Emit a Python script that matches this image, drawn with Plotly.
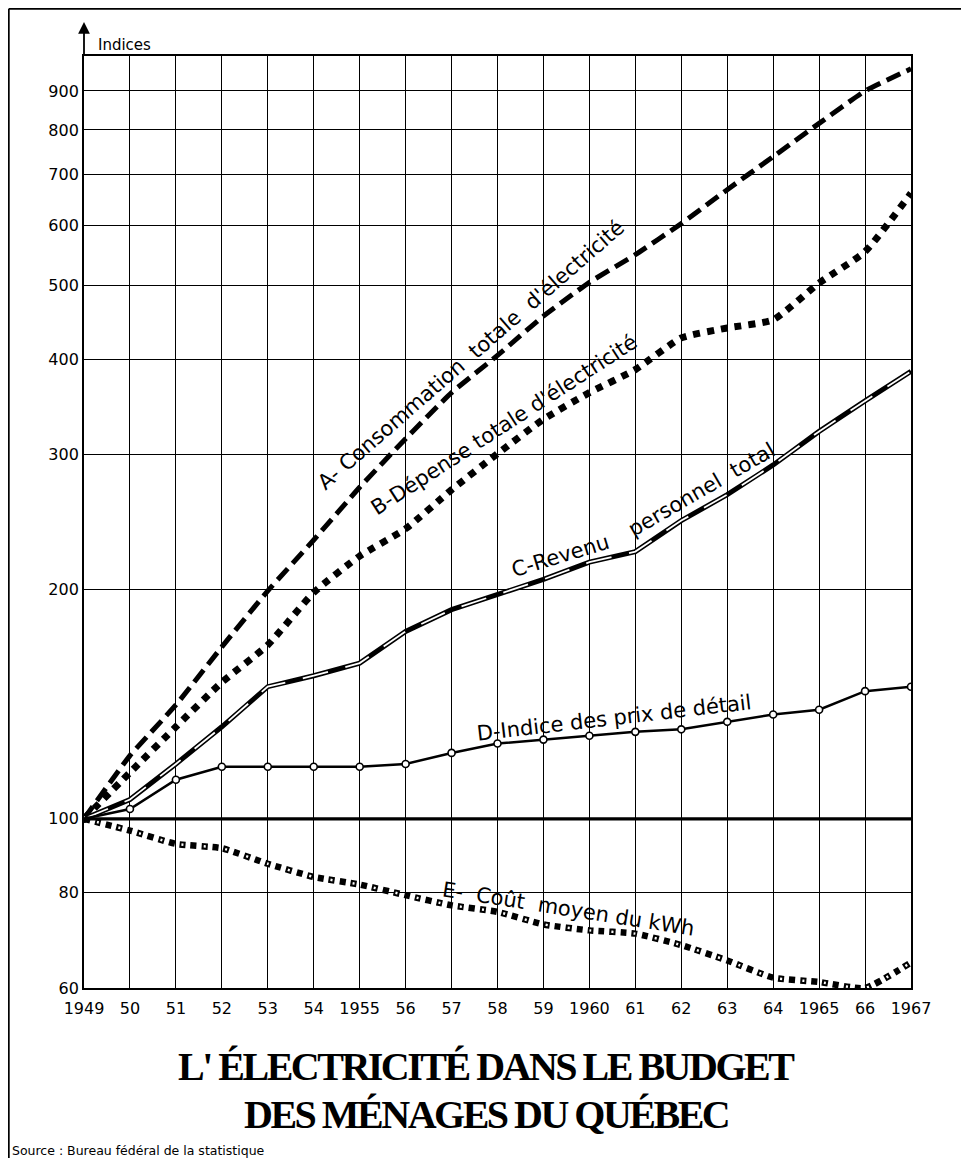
import math
import plotly.graph_objects as go

# ---------------- data ----------------
years = list(range(1949, 1968))
x_labels = ["1949", "50", "51", "52", "53", "54", "1955", "56", "57", "58",
            "59", "1960", "61", "62", "63", "64", "1965", "66", "1967"]
y_ticks = [60, 80, 100, 200, 300, 400, 500, 600, 700, 800, 900]

consommation = [100, 121, 141, 168, 199, 232, 272, 315, 362, 405,
                456, 505, 549, 603, 668, 738, 816, 900, 962]
depense = [100, 115, 132, 151, 169, 198, 221, 240, 270, 301,
           334, 362, 388, 427, 440, 451, 504, 554, 661]
revenu = [100, 106, 118, 132, 149, 154, 160, 176, 188, 197,
          206, 217, 224, 246, 266, 291, 322, 353, 386]
prix = [100, 103, 112.5, 117, 117, 117, 117, 118, 122, 125.5,
        127, 128.5, 130, 131, 134, 137, 139, 147, 149]
cout_kwh = [100, 96.5, 92.7, 91.5, 87.3, 83.9, 82, 79.4, 77, 75.5,
            72.7, 71.4, 70.7, 68.3, 65.2, 61.9, 61.1, 60, 64.8]

label_a = "A- Consommation\u00a0 totale\u00a0 d'électricité"
label_b = "B-Dépense totale d'électricité"
label_c1 = "C-Revenu"
label_c2 = "personnel\u00a0 total"
label_d = "D-Indice des prix de détail"
label_e = "E-\u00a0 Coût\u00a0 moyen du kWh"
title_1 = "L' ÉLECTRICITÉ DANS LE BUDGET"
title_2 = "DES MÉNAGES DU QUÉBEC"
source = "Source : Bureau fédéral de la statistique"

# ---------------- geometry (page body has an 8px margin) ----------------
PAGE_W, PAGE_H, OFF = 969, 1166, 8
W, H = PAGE_W - 2 * OFF, PAGE_H - 2 * OFF
X0, X1, Y0, Y1 = 84, 911, 56, 988          # plot box in page pixels
L, T = X0 - OFF, Y0 - OFF
R, B = W - (X1 - OFF), H - (Y1 - OFF)
PW, PH = X1 - X0, Y1 - Y0


def px(xp):
    return (xp - X0) / PW


def py(yp):
    return (Y1 - yp) / PH


fig = go.Figure()

# A - dashed
fig.add_trace(go.Scatter(x=years, y=consommation, mode="lines",
                         line=dict(color="black", width=5, dash="15px,7px",
                                   shape="spline", smoothing=0.4),
                         name="A"))
# B - big dots
fig.add_trace(go.Scatter(x=years, y=depense, mode="lines",
                         line=dict(color="black", width=7, dash="7px,7px",
                                   shape="spline", smoothing=0.5),
                         name="B"))
# C - double line with black segments
fig.add_trace(go.Scatter(x=years, y=revenu, mode="lines",
                         line=dict(color="black", width=5), name="C"))
fig.add_trace(go.Scatter(x=years, y=revenu, mode="lines",
                         line=dict(color="white", width=1.8, dash="26px,18px"),
                         hoverinfo="skip", name="C core"))
# D - line with open circles
fig.add_trace(go.Scatter(x=years, y=prix, mode="lines+markers",
                         line=dict(color="black", width=2.5),
                         marker=dict(symbol="circle", size=7, color="white",
                                     line=dict(color="black", width=1.6)),
                         name="D"))
# E - alternating filled / open dots
fig.add_trace(go.Scatter(x=years, y=cout_kwh, mode="lines",
                         line=dict(color="black", width=6.5, dash="6px,5px",
                                   shape="spline", smoothing=0.5),
                         name="E"))
fig.add_trace(go.Scatter(x=years, y=cout_kwh, mode="lines",
                         line=dict(color="white", width=2.5, dash="0px,13px,2px,7px",
                                   shape="spline", smoothing=0.5),
                         hoverinfo="skip", name="E core"))

lab_font = dict(family="DejaVu Sans", size=21, color="black")
title_font = dict(family="Liberation Serif", size=40, color="black", weight="bold")
tight = '<span style="letter-spacing:-2.5px">{}</span>'
annotations = [
    dict(text=label_a, x=px(471), y=py(355), textangle=-41, font=lab_font),
    dict(text=label_b, x=px(504), y=py(425), textangle=-33, font=lab_font),
    dict(text=label_c1, x=px(560), y=py(556), textangle=-17, font=lab_font),
    dict(text=label_c2, x=px(701), y=py(490), textangle=-30, font=lab_font),
    dict(text=label_d, x=px(614), y=py(718), textangle=-6.6, font=lab_font),
    dict(text=label_e, x=px(568), y=py(909), textangle=8.9, font=lab_font),
    dict(text="Indices", x=px(96), y=py(45), xanchor="left", yanchor="middle",
         font=dict(family="DejaVu Sans", size=15, color="black")),
    dict(text=tight.format(title_1), x=px(486), y=py(1066), font=title_font),
    dict(text=tight.format(title_2), x=px(486), y=py(1114), font=title_font),
    dict(text=source, x=px(10), y=py(1150), xanchor="left", yanchor="middle",
         font=dict(family="DejaVu Sans", size=12.5, color="black")),
    dict(text="", x=0, y=py(22), ax=0, ay=34, showarrow=True, arrowhead=2,
         arrowsize=1.3, arrowwidth=1.8, arrowcolor="black", standoff=0),
]
for a in annotations:
    a.setdefault("xref", "paper")
    a.setdefault("yref", "paper")
    a.setdefault("showarrow", False)
    a.setdefault("xanchor", "center")
    a.setdefault("yanchor", "middle")

shapes = [
    # heavy 100 base line
    dict(type="line", xref="x", yref="y", x0=years[0], x1=years[-1], y0=100, y1=100,
         line=dict(color="black", width=3.2)),
    # outer frame (left and top)
    dict(type="line", xref="paper", yref="paper", x0=px(8.8), x1=px(8.8),
         y0=py(8.8), y1=py(PAGE_H), line=dict(color="black", width=1.8)),
    dict(type="line", xref="paper", yref="paper", x0=px(8.8), x1=px(PAGE_W),
         y0=py(8.8), y1=py(8.8), line=dict(color="black", width=1.8)),
]

fig.update_layout(
    width=W, height=H,
    margin=dict(l=L, r=R, t=T, b=B, pad=0),
    paper_bgcolor="white", plot_bgcolor="white",
    showlegend=False,
    font=dict(family="DejaVu Sans", color="black"),
    annotations=annotations,
    shapes=shapes,
    xaxis=dict(range=[years[0], years[-1]], tickvals=years, ticktext=x_labels,
               showgrid=True, gridcolor="black", gridwidth=1.2, zeroline=False,
               showline=True, linecolor="black", linewidth=1.8, mirror=True,
               ticks="", ticklabelstandoff=5,
               tickfont=dict(size=16, family="DejaVu Sans")),
    yaxis=dict(type="log", range=[math.log10(60), 3], tickvals=y_ticks,
               ticktext=[str(v) for v in y_ticks],
               showgrid=True, gridcolor="black", gridwidth=1.2, zeroline=False,
               showline=True, linecolor="black", linewidth=1.8, mirror=True,
               ticks="", tickfont=dict(size=16, family="DejaVu Sans")),
)

fig.write_html("out.html")
